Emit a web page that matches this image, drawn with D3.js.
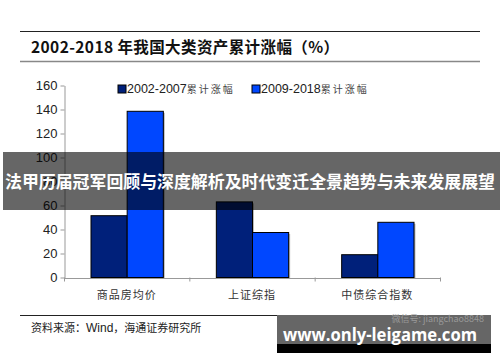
<!DOCTYPE html>
<html><head><meta charset="utf-8">
<script src="https://cdn.jsdelivr.net/npm/d3@7"></script>
<style>body{margin:0;background:#fff}svg{display:block}</style>
</head><body>
<script>
const categories = ["商品房均价", "上证综指", "中债综合指数"];
const seriesNames = ["2002-2007累计涨幅", "2009-2018累计涨幅"];
const series1 = [51.5, 63, 19];
const series2 = [138.5, 37.5, 46];
const yTicks = [0, 20, 40, 60, 80, 100, 120, 140, 160];
const colors = ["#00207a", "#0047ff"];

const W = 500, H = 362;
const svg = d3.select("body").append("svg").attr("width", W).attr("height", H);
const cjk = "'Noto Sans CJK SC', sans-serif";

// title block
svg.append("line").attr("x1", 20).attr("x2", 480).attr("y1", 31.5).attr("y2", 31.5).attr("stroke", "#222").attr("stroke-width", 1);
svg.append("line").attr("x1", 20).attr("x2", 480).attr("y1", 61.5).attr("y2", 61.5).attr("stroke", "#888").attr("stroke-width", 1.5);
svg.append("text").attr("x", 31).attr("y", 53).attr("font-family", cjk).attr("font-weight", "bold")
  .attr("font-size", 15.5).attr("letter-spacing", 0.4).attr("fill", "#111").text("2002-2018 年我国大类资产累计涨幅（%）");

const x = d3.scaleBand().domain(categories).range([64, 440]).paddingInner(0).paddingOuter(0);
const inner = d3.scaleBand().domain([0, 1]).range([27, x.bandwidth() - 26]);
const y = d3.scaleLinear().domain([0, 160]).range([277.5, 85.5]);

// bars
const data = categories.map((c, i) => ({c, v: [series1[i], series2[i]]}));
const g = svg.append("g");
data.forEach(d => {
  d.v.forEach((v, k) => {
    g.append("rect").attr("x", x(d.c) + inner(k) + 1.5).attr("y", y(v) + 1.5)
      .attr("width", inner.bandwidth()).attr("height", y(0) - y(v)).attr("fill", "#bbb");
    g.append("rect").attr("x", x(d.c) + inner(k)).attr("y", y(v))
      .attr("width", inner.bandwidth()).attr("height", y(0) - y(v))
      .attr("fill", colors[k]).attr("stroke", "#000").attr("stroke-width", 1);
  });
});

// y axis
const ya = svg.append("g").attr("transform", "translate(64.5,0)")
  .call(d3.axisLeft(y).tickValues(yTicks).tickSize(4).tickSizeOuter(0).tickPadding(3));
ya.select(".domain").attr("stroke", "#999");
ya.selectAll(".tick line").attr("stroke", "#999");
ya.selectAll("text").attr("font-family", "Arial, 'Liberation Sans', sans-serif").attr("font-size", 13).attr("fill", "#222");

// x axis
const xa = svg.append("g").attr("transform", `translate(0,${y(0) + 0.5})`)
  .call(d3.axisBottom(x).tickSize(0).tickPadding(13));
xa.select(".domain").attr("stroke", "#999");
xa.selectAll("text").attr("font-family", cjk).attr("font-size", 11).attr("letter-spacing", 1).attr("fill", "#333");
const bounds = [64, ...categories.map(c => x(c) + x.bandwidth())];
bounds.forEach(b => svg.append("line").attr("x1", b + 0.5).attr("x2", b + 0.5)
  .attr("y1", y(0)).attr("y2", y(0) + 4).attr("stroke", "#999"));

// legend
const legX = [118, 252];
seriesNames.forEach((n, k) => {
  svg.append("rect").attr("x", legX[k]).attr("y", 85).attr("width", 8).attr("height", 8)
    .attr("fill", colors[k]).attr("stroke", "#000").attr("stroke-width", 1);
  const t = svg.append("text").attr("x", legX[k] + 9).attr("y", 93).attr("font-size", 12.5).attr("fill", "#222");
  t.append("tspan").attr("font-family", "Arial, 'Liberation Sans', sans-serif").text(n.slice(0, 9));
  t.append("tspan").attr("font-family", cjk).attr("font-size", 10).attr("fill", "#444").attr("letter-spacing", 2).text(n.slice(9));
});

// source
svg.append("line").attr("x1", 20).attr("x2", 480).attr("y1", 315.5).attr("y2", 315.5).attr("stroke", "#222");
const s = svg.append("text").attr("x", 31).attr("y", 332).attr("font-size", 12).attr("fill", "#222");
s.append("tspan").attr("font-family", cjk).attr("font-size", 11).text("资料来源：");
s.append("tspan").attr("font-family", "Arial, sans-serif").text("Wind");
s.append("tspan").attr("font-family", cjk).attr("font-size", 11).text("，海通证券研究所");

// overlay banner
svg.append("rect").attr("x", 3).attr("y", 152).attr("width", 497).attr("height", 58).attr("fill", "rgba(0,0,0,0.6)");
svg.append("text").attr("x", 250).attr("y", 188).attr("text-anchor", "middle").attr("font-family", cjk)
  .attr("font-weight", "bold").attr("font-size", 17).attr("fill", "#fff")
  .attr("textLength", 490).attr("lengthAdjust", "spacingAndGlyphs")
  .text("法甲历届冠军回顾与深度解析及时代变迁全景趋势与未来发展展望");

// bottom watermark
svg.append("rect").attr("x", 277).attr("y", 315).attr("width", 214).attr("height", 30).attr("fill", "#666");
svg.append("rect").attr("x", 277).attr("y", 344).attr("width", 214).attr("height", 9).attr("fill", "#000");
svg.append("text").attr("x", 484).attr("y", 322).attr("text-anchor", "end").attr("font-family", cjk)
  .attr("font-size", 9).attr("fill", "#999").text("微信号: jiangchao8848");
svg.append("text").attr("x", 380).attr("y", 341).attr("text-anchor", "middle").attr("font-family", "'Open Sans', 'DejaVu Sans', sans-serif")
  .attr("font-weight", "bold").attr("font-size", 17.5).attr("fill", "#fff")
  .attr("textLength", 194).attr("lengthAdjust", "spacingAndGlyphs").text("www.only-leigame.com");
</script>
</body></html>
